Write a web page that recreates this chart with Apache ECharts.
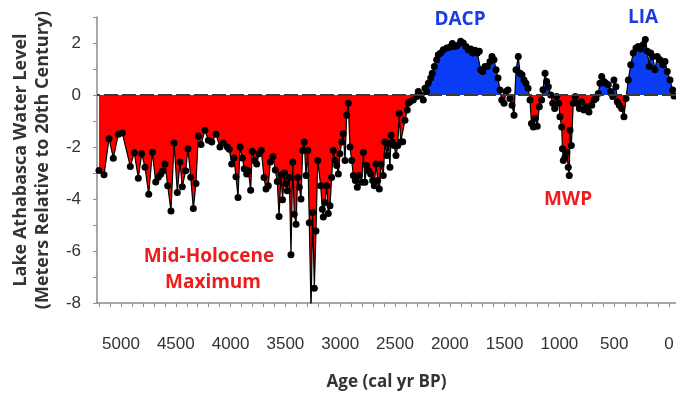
<!DOCTYPE html>
<html><head><meta charset="utf-8">
<script src="https://cdn.jsdelivr.net/npm/echarts@6/dist/echarts.min.js"></script>
<style>html,body{margin:0;padding:0;background:#fff}#c{width:676px;height:398px}</style>
</head><body><div id="c"></div>
<script>
// Age (cal yr BP)
const ages = [
 5201,5155,5109,5070,5025,4988,4915,4879,4842,4811,
 4781,4747,4714,4683,4660,4638,4620,4598,4574,4544,
 4516,4486,4462,4441,4410,4389,4364,4340,4316,4295,
 4270,4234,4203,4172,4133,4097,4067,4030,4012,3990,
 3969,3951,3932,3914,3893,3875,3853,3838,3817,3802,
 3780,3762,3741,3720,3695,3677,3656,3638,3613,3592,
 3574,3558,3540,3526,3508,3497,3483,3464,3449,3433,
 3419,3403,3388,3373,3358,3342,3328,3312,3296,3282,
 3266,3251,3236,3221,3205,3178,3163,3154,3139,3123,
 3109,3093,3078,3063,3047,3032,3017,3002,2986,2972,
 2956,2941,2926,2911,2895,2880,2862,2844,2826,2804,
 2789,2774,2758,2740,2722,2704,2689,2673,2658,2643,
 2628,2607,2591,2576,2561,2546,2536,2525,2509,2491,
 2475,2461,2448,2430,2409,2388,2379,2363,2333,2302,
 2287,2265,2242,2226,2211,2196,2174,2160,2141,2120,
 2105,2083,2059,2028,1998,1977,1953,1932,1901,1877,
 1852,1831,1809,1791,1770,1749,1731,1718,1700,1679,
 1658,1633,1615,1597,1578,1560,1542,1526,1505,1487,
 1469,1451,1432,1414,1396,1375,1359,1341,1323,1305,
 1286,1268,1255,1238,1220,1202,1183,1162,1150,1131,
 1116,1101,1079,1061,1043,1025,1006,995,979,972,
 964,949,933,919,910,903,891,873,855,837,
 818,797,776,751,730,705,684,666,645,630,
 614,593,575,554,532,514,502,484,472,453,
 432,411,392,371,349,326,301,280,258,234,
 216,198,180,167,149,128,107,82,57,36,
 16,-9,-34,-46
];
// Lake level (m relative to 20th century)
const levels = [
 -2.9,-3.07,-1.68,-2.43,-1.51,-1.46,-2.75,-2.22,-3.2,-2.26,
 -2.78,-3.82,-2.2,-3.35,-3.16,-3.05,-2.92,-2.65,-3.49,-4.46,
 -1.85,-3.75,-2.58,-3.53,-2.91,-2.07,-3.16,-4.37,-3.4,-1.58,
 -1.9,-1.36,-1.74,-1.81,-1.51,-2.0,-1.85,-2.0,-2.09,-2.65,
 -2.42,-3.14,-3.94,-2.0,-2.42,-2.84,-3.04,-2.91,-3.66,-2.16,
 -2.52,-2.65,-2.26,-2.13,-3.17,-3.62,-3.49,-2.58,-2.37,-2.88,
 -3.33,-4.67,-3.08,-4.03,-3.0,-3.42,-3.68,-3.17,-6.14,-2.58,
 -4.59,-4.97,-3.17,-3.55,-4.0,-2.13,-1.81,-3.1,-2.13,-4.91,
 -8.3,-4.52,-7.43,-5.23,-2.52,-3.49,-4.39,-4.69,-4.13,-3.49,
 -4.56,-4.26,-3.17,-2.13,-2.52,-2.71,-3.04,-2.26,-1.81,-1.49,
 -2.52,-0.78,-0.32,-2.0,-2.52,-3.1,-3.29,-3.55,-3.1,-3.36,
 -2.2,-3.36,-2.71,-2.91,-3.04,-3.29,-3.49,-2.65,-3.29,-3.62,
 -2.65,-3.1,-1.81,-2.33,-1.87,-2.78,-1.55,-1.81,-1.94,-2.33,
 -1.94,-0.71,-1.81,-1.8,-0.97,-0.58,-0.32,-0.26,-0.19,-0.06,
 0.13,0,-0.19,0.26,0.13,0.45,0.65,0.84,1.1,1.36,
 1.55,1.62,1.74,1.81,1.85,1.98,1.87,1.9,2.07,2.0,
 1.87,1.74,1.77,1.62,1.72,1.62,1.68,0.97,0.9,1.1,
 1.1,1.29,1.48,1.36,0.97,0.65,0.19,-0.19,-0.32,0.13,
 0.19,-0.13,-0.39,-0.78,0.97,1.48,0.84,0.78,0.58,0.45,
 0.26,-0.19,-1.1,-1.23,-0.9,-1.2,-0.45,-0.19,0.2,0.84,
 0.52,0.32,0,-0.32,-0.52,-0.06,-0.32,-0.84,-1.23,-2.07,
 -2.52,-2.39,-2.2,-2.78,-3.1,-1.36,-1.94,-0.32,-0.06,-0.32,
 -0.52,-0.26,-0.58,-0.45,-0.65,-0.39,-0.19,-0.13,0.06,0.45,
 0.71,0.52,0.45,0.39,0.13,-0.06,0.58,0.32,-0.26,-0.39,
 -0.52,-0.84,-0.13,0.58,1.16,1.62,1.81,1.87,1.77,1.94,
 2.13,1.68,1.1,1.62,1.48,0.97,1.48,1.36,1.16,1.29,
 0.9,0.58,0.19,-0.04
];
const xLabelValues = [5000,4500,4000,3500,3000,2500,2000,1500,1000,500,0];
const xTickValues = [5200,5100,5000,4900,4800,4700,4600,4500,4400,4300,4200,4100,4000,3900,3800,3700,3600,3500,3400,3300,3200,3100,3000,2900,2800,2700,2600,2500,2400,2300,2200,2100,2000,1900,1800,1700,1600,1500,1400,1300,1200,1100,1000,900,800,700,600,500,400,300,200,100,0];
const yLabelValues = [2,0,-2,-4,-6,-8];
const yTickValues = [3,2,1,0,-1,-2,-3,-4,-5,-6,-7,-8];
const xAxisName = 'Age (cal yr BP)';
const yAxisName = 'Lake Athabasca Water Level\n(Meters Relative to 20th Century)';
const notes = [
  {text:'DACP', x:460, y:20, color:'#1b3be6'},
  {text:'LIA', x:643, y:18, color:'#1b3be6'},
  {text:'MWP', x:568, y:200, color:'#ee1c1c'},
  {text:'Mid-Holocene', x:209, y:257, color:'#ee1c1c'},
  {text:'Maximum', x:213, y:283, color:'#ee1c1c'}
];

const pairs = ages.map((a, i) => [a, levels[i]]);
const labelFont = '"Liberation Sans Narrow","Liberation Sans",Arial,sans-serif';
const titleFont = '"Open Sans","Noto Sans",sans-serif';
const axisGray = '#8c8c8c';
const RED = '#ff0000', BLUE = '#0a3cf5';

const chart = echarts.init(document.getElementById('c'), null, {renderer:'canvas'});
chart.setOption({
  animation: false,
  grid: {left: 97, right: 0, top: 17, bottom: 95, containLabel: false, outerBoundsMode: 'none'},
  xAxis: {
    type: 'value', inverse: true, min: -64, max: 5219, position: 'bottom',
    splitLine: {show: false},
    axisLine: {show: true, onZero: false, lineStyle: {color: axisGray, width: 1.5}},
    axisTick: {show: true, customValues: xTickValues, length: 4, lineStyle: {color: axisGray}},
    axisLabel: {customValues: xLabelValues, formatter: v => String(v), margin: 33, fontSize: 17, fontFamily: labelFont, color: '#333'},
    name: xAxisName, nameLocation: 'middle', nameGap: 71,
    nameTextStyle: {fontSize: 17, fontWeight: 'bold', fontFamily: titleFont, color: '#333'}
  },
  yAxis: {
    type: 'value', min: -8, max: 3, interval: 1,
    axisLine: {show: true, onZero: false, lineStyle: {color: axisGray, width: 1.5}},
    axisTick: {show: true, customValues: yTickValues, length: 4, lineStyle: {color: axisGray}},
    axisLabel: {customValues: yLabelValues, margin: 16, fontSize: 17, fontFamily: labelFont, color: '#333'},
    splitLine: {show: false},
    name: yAxisName, nameLocation: 'middle', nameGap: 43, nameRotate: 90,
    nameTextStyle: {fontSize: 18, fontWeight: 'bold', fontFamily: titleFont, color: '#333', lineHeight: 22, align: 'center'}
  },
  series: [{
    type: 'line', data: pairs, showSymbol: false, z: 2,
    lineStyle: {width: 0}, areaStyle: {opacity: 1, color: RED},
    markLine: {
      silent: true, symbol: 'none', label: {show: false},
      lineStyle: {color: '#3a3a3a', type: [14, 4], width: 2},
      data: [{yAxis: 0}]
    }
  }, {
    type: 'line', data: pairs, symbol: 'circle', symbolSize: 7, showSymbol: true, z: 3,
    itemStyle: {color: '#000'}, lineStyle: {color: '#000', width: 1.2}
  }],
  graphic: notes.map(n => ({
    type: 'text', x: n.x, y: n.y, z: 10,
    style: {text: n.text, fill: n.color, font: 'bold 19px ' + titleFont, textAlign: 'center', textVerticalAlign: 'middle'}
  }))
});
// area above the zero line blue, below red: gradient split exactly at the pixel of y = 0
const zeroY = chart.convertToPixel({yAxisIndex: 0}, 0);
chart.setOption({
  series: [{
    areaStyle: {opacity: 1, color: {
      type: 'linear', x: 0, y: zeroY - 0.5, x2: 0, y2: zeroY + 0.5, global: true,
      colorStops: [{offset: 0, color: BLUE}, {offset: 0.5, color: BLUE}, {offset: 0.5, color: RED}, {offset: 1, color: RED}]
    }}
  }, {}]
});
</script>
</body></html>
